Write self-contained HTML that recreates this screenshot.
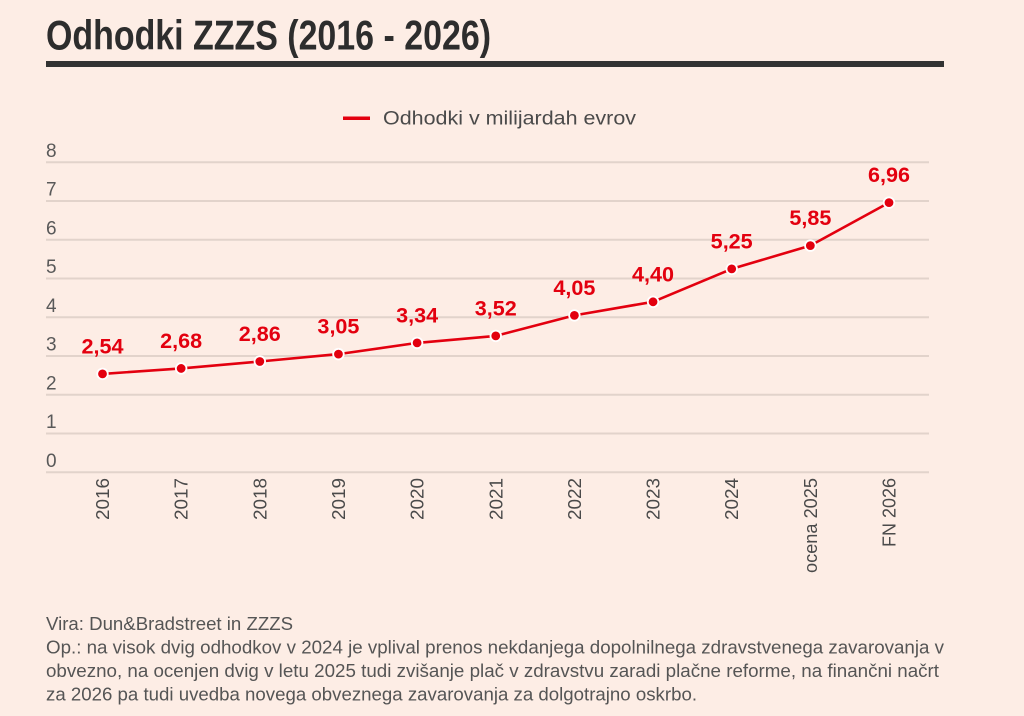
<!DOCTYPE html>
<html>
<head>
<meta charset="utf-8">
<style>
  html, body { margin:0; padding:0; background:#fdede5; }
  body { width:1024px; height:716px; overflow:hidden; }
  svg { display:block; }
  text { font-family: "Liberation Sans", "DejaVu Sans", sans-serif; }
</style>
</head>
<body>
<svg width="1024" height="716" viewBox="0 0 1024 716" xmlns="http://www.w3.org/2000/svg">
  <rect x="0" y="0" width="1024" height="716" fill="#fdede5"/>

  <!-- Title -->
  <text x="46" y="49.5" font-size="42" font-weight="bold" fill="#2d2d2d" textLength="445" lengthAdjust="spacingAndGlyphs">Odhodki ZZZS (2016 - 2026)</text>
  <rect x="46" y="61" width="898" height="6" fill="#333333"/>

  <!-- Legend -->
  <rect x="343" y="116.5" width="27" height="3.5" fill="#e3000f"/>
  <text x="383" y="124.5" font-size="19" fill="#4a4a4a" textLength="253" lengthAdjust="spacingAndGlyphs">Odhodki v milijardah evrov</text>

  <!-- Gridlines -->
  <g stroke="#e2d3cb" stroke-width="2">
    <line x1="46" y1="162.3" x2="929" y2="162.3"/>
    <line x1="46" y1="201.05" x2="929" y2="201.05"/>
    <line x1="46" y1="239.8" x2="929" y2="239.8"/>
    <line x1="46" y1="278.55" x2="929" y2="278.55"/>
    <line x1="46" y1="317.3" x2="929" y2="317.3"/>
    <line x1="46" y1="356.05" x2="929" y2="356.05"/>
    <line x1="46" y1="394.8" x2="929" y2="394.8"/>
    <line x1="46" y1="433.55" x2="929" y2="433.55"/>
    <line x1="46" y1="472.3" x2="929" y2="472.3"/>
  </g>

  <!-- Y labels -->
  <g font-size="19" fill="#595959">
    <text x="46" y="157">8</text>
    <text x="46" y="195.7">7</text>
    <text x="46" y="234.5">6</text>
    <text x="46" y="273.2">5</text>
    <text x="46" y="312">4</text>
    <text x="46" y="350.7">3</text>
    <text x="46" y="389.5">2</text>
    <text x="46" y="428.2">1</text>
    <text x="46" y="467">0</text>
  </g>

  <!-- X labels (rotated) -->
  <g font-size="18" fill="#4a4a4a" text-anchor="end">
    <text transform="translate(109,478) rotate(-90)" textLength="42" lengthAdjust="spacingAndGlyphs">2016</text>
    <text transform="translate(187.65,478) rotate(-90)" textLength="42" lengthAdjust="spacingAndGlyphs">2017</text>
    <text transform="translate(266.3,478) rotate(-90)" textLength="42" lengthAdjust="spacingAndGlyphs">2018</text>
    <text transform="translate(344.95,478) rotate(-90)" textLength="42" lengthAdjust="spacingAndGlyphs">2019</text>
    <text transform="translate(423.6,478) rotate(-90)" textLength="42" lengthAdjust="spacingAndGlyphs">2020</text>
    <text transform="translate(502.25,478) rotate(-90)" textLength="42" lengthAdjust="spacingAndGlyphs">2021</text>
    <text transform="translate(580.9,478) rotate(-90)" textLength="42" lengthAdjust="spacingAndGlyphs">2022</text>
    <text transform="translate(659.55,478) rotate(-90)" textLength="42" lengthAdjust="spacingAndGlyphs">2023</text>
    <text transform="translate(738.2,478) rotate(-90)" textLength="42" lengthAdjust="spacingAndGlyphs">2024</text>
    <text transform="translate(816.85,478) rotate(-90)" textLength="95" lengthAdjust="spacingAndGlyphs">ocena 2025</text>
    <text transform="translate(895.5,478) rotate(-90)" textLength="69" lengthAdjust="spacingAndGlyphs">FN 2026</text>
  </g>

  <!-- Series line -->
  <polyline fill="none" stroke="#e3000f" stroke-width="2.6" stroke-linejoin="round"
    points="102.5,373.9 181.15,368.45 259.8,361.5 338.45,354.1 417.1,342.9 495.75,335.9 574.4,315.4 653.05,301.8 731.7,268.9 810.35,245.6 889,202.6"/>

  <!-- Markers -->
  <g fill="#e3000f" stroke="#ffffff" stroke-width="1.8">
    <circle cx="102.5" cy="373.9" r="5.3"/>
    <circle cx="181.15" cy="368.45" r="5.3"/>
    <circle cx="259.8" cy="361.5" r="5.3"/>
    <circle cx="338.45" cy="354.1" r="5.3"/>
    <circle cx="417.1" cy="342.9" r="5.3"/>
    <circle cx="495.75" cy="335.9" r="5.3"/>
    <circle cx="574.4" cy="315.4" r="5.3"/>
    <circle cx="653.05" cy="301.8" r="5.3"/>
    <circle cx="731.7" cy="268.9" r="5.3"/>
    <circle cx="810.35" cy="245.6" r="5.3"/>
    <circle cx="889" cy="202.6" r="5.3"/>
  </g>

  <!-- Data labels -->
  <g font-size="21" font-weight="bold" fill="#e3000f" text-anchor="middle">
    <text x="102.5" y="353.5" textLength="42" lengthAdjust="spacingAndGlyphs">2,54</text>
    <text x="181.15" y="348" textLength="42" lengthAdjust="spacingAndGlyphs">2,68</text>
    <text x="259.8" y="341" textLength="42" lengthAdjust="spacingAndGlyphs">2,86</text>
    <text x="338.45" y="333.5" textLength="42" lengthAdjust="spacingAndGlyphs">3,05</text>
    <text x="417.1" y="322.5" textLength="42" lengthAdjust="spacingAndGlyphs">3,34</text>
    <text x="495.75" y="315.5" textLength="42" lengthAdjust="spacingAndGlyphs">3,52</text>
    <text x="574.4" y="295" textLength="42" lengthAdjust="spacingAndGlyphs">4,05</text>
    <text x="653.05" y="281.5" textLength="42" lengthAdjust="spacingAndGlyphs">4,40</text>
    <text x="731.7" y="248.5" textLength="42" lengthAdjust="spacingAndGlyphs">5,25</text>
    <text x="810.35" y="225" textLength="42" lengthAdjust="spacingAndGlyphs">5,85</text>
    <text x="889" y="182" textLength="42" lengthAdjust="spacingAndGlyphs">6,96</text>
  </g>

  <!-- Footer -->
  <g font-size="18" fill="#555555">
    <text x="46" y="630" textLength="247" lengthAdjust="spacingAndGlyphs">Vira: Dun&amp;Bradstreet in ZZZS</text>
    <text x="46" y="653.5" textLength="898" lengthAdjust="spacingAndGlyphs">Op.: na visok dvig odhodkov v 2024 je vplival prenos nekdanjega dopolnilnega zdravstvenega zavarovanja v</text>
    <text x="46" y="677" textLength="893" lengthAdjust="spacingAndGlyphs">obvezno, na ocenjen dvig v letu 2025 tudi zvišanje plač v zdravstvu zaradi plačne reforme, na finančni načrt</text>
    <text x="46" y="700.5" textLength="651" lengthAdjust="spacingAndGlyphs">za 2026 pa tudi uvedba novega obveznega zavarovanja za dolgotrajno oskrbo.</text>
  </g>
</svg>
</body>
</html>
